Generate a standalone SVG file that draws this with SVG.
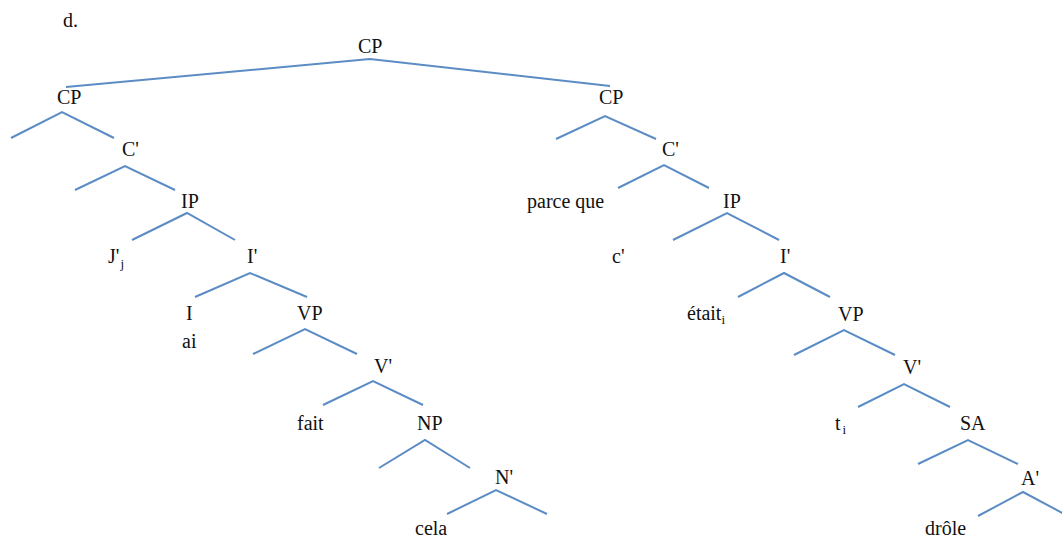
<svg xmlns="http://www.w3.org/2000/svg" width="1062" height="539" viewBox="0 0 1062 539">
  <style>
    .lbl { font-family: 'Liberation Serif', 'Times New Roman', serif; font-size: 20px; fill: #111111; }
    .sub { font-size: 13px; }
    .branch { fill: none; stroke: #5B8CC4; stroke-width: 2; }
  </style>
  <rect width="1062" height="539" fill="#ffffff"/>

  <!-- tree branches -->
  <g id="connectors">
    <polyline class="branch" points="66,87 370,59 610,86"/>
    <!-- left clause -->
    <polyline class="branch" points="11,138 62,112 114,138"/>
    <polyline class="branch" points="75,190 125,166 175,190"/>
    <polyline class="branch" points="132,240 187,213 235,240"/>
    <polyline class="branch" points="195,297 250,273 307,297"/>
    <polyline class="branch" points="253,354 305,329 357,354"/>
    <polyline class="branch" points="323,405 373,381 423,405"/>
    <polyline class="branch" points="379,468 425,440 470,468"/>
    <polyline class="branch" points="447,514 496,490 547,514"/>
    <!-- right clause -->
    <polyline class="branch" points="556,139 605,116 656,139"/>
    <polyline class="branch" points="618,188 664,165 709,188"/>
    <polyline class="branch" points="673,240 727,213 779,240"/>
    <polyline class="branch" points="738,297 784,273 830,297"/>
    <polyline class="branch" points="794,355 844,330 895,355"/>
    <polyline class="branch" points="858,407 904,384 950,407"/>
    <polyline class="branch" points="918,464 968,440 1018,464"/>
    <polyline class="branch" points="978,516 1023,492 1068,516"/>
  </g>

  <text class="lbl" x="63" y="27">d.</text>

  <!-- root -->
  <g id="cp-root"><text class="lbl" x="358" y="53">CP</text></g>

  <!-- left clause: J'ai fait cela -->
  <g id="cp-left"><text class="lbl" x="57" y="104">CP</text></g>
  <g id="c-bar-left"><text class="lbl" x="122" y="156">C'</text></g>
  <g id="ip-left"><text class="lbl" x="181" y="208">IP</text></g>
  <g id="subj-left"><text class="lbl" x="108" y="263">J'<tspan class="sub" dx="1" dy="5">j</tspan></text></g>
  <g id="i-bar-left"><text class="lbl" x="247" y="263">I'</text></g>
  <g id="i-left"><text class="lbl" x="186" y="320">I</text></g>
  <g id="ai"><text class="lbl" x="182" y="348">ai</text></g>
  <g id="vp-left"><text class="lbl" x="297" y="320">VP</text></g>
  <g id="v-bar-left"><text class="lbl" x="374" y="373">V'</text></g>
  <g id="fait"><text class="lbl" x="297" y="430">fait</text></g>
  <g id="np"><text class="lbl" x="417" y="430">NP</text></g>
  <g id="n-bar"><text class="lbl" x="495" y="484">N'</text></g>
  <g id="cela"><text class="lbl" x="415" y="535">cela</text></g>

  <!-- right clause: parce que c'était drôle -->
  <g id="cp-right"><text class="lbl" x="599" y="104">CP</text></g>
  <g id="c-bar-right"><text class="lbl" x="662" y="156">C'</text></g>
  <g id="parce-que"><text class="lbl" x="527" y="208">parce que</text></g>
  <g id="ip-right"><text class="lbl" x="723" y="208">IP</text></g>
  <g id="subj-right"><text class="lbl" x="612" y="263">c'</text></g>
  <g id="i-bar-right"><text class="lbl" x="780" y="263">I'</text></g>
  <g id="etait"><text class="lbl" x="687" y="320">était<tspan class="sub" dy="4">i</tspan></text></g>
  <g id="vp-right"><text class="lbl" x="838" y="321">VP</text></g>
  <g id="v-bar-right"><text class="lbl" x="903" y="374">V'</text></g>
  <g id="trace"><text class="lbl" x="835" y="430">t<tspan class="sub" dx="2" dy="4">i</tspan></text></g>
  <g id="sa"><text class="lbl" x="960" y="430">SA</text></g>
  <g id="a-bar"><text class="lbl" x="1021" y="485">A'</text></g>
  <g id="drole"><text class="lbl" x="925" y="535">drôle</text></g>
</svg>
